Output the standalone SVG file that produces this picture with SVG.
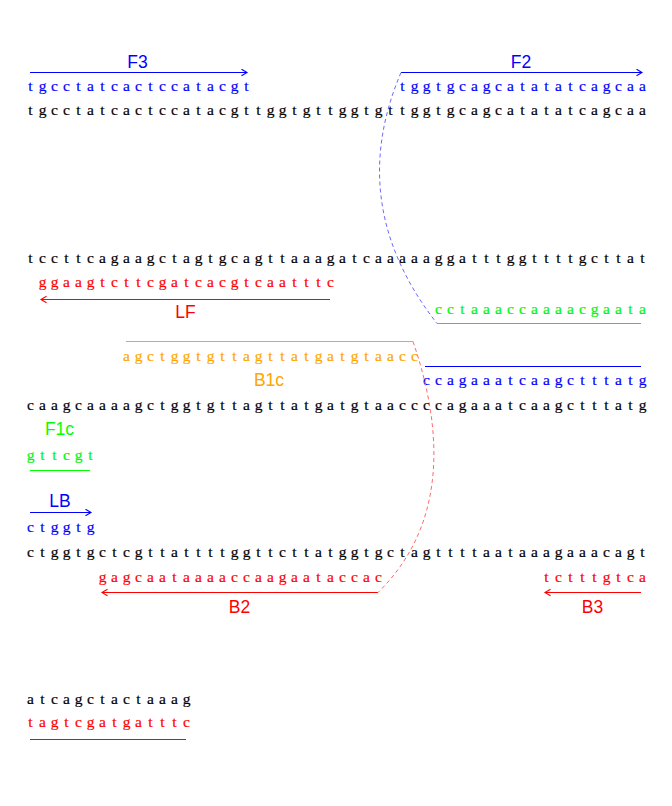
<svg xmlns="http://www.w3.org/2000/svg" width="672" height="806" viewBox="0 0 672 806">
<defs>
<style>
.seq{font-family:"Liberation Serif","Times New Roman",serif;font-size:15.5px;text-anchor:middle;stroke-width:0.2}
.lab{font-family:"Liberation Sans",Arial,sans-serif;font-size:17.5px;text-anchor:middle}
.k{fill:#000;stroke:#000}.b{fill:#0000FF}.r{fill:#FF0000}.g{fill:#00FF00}.o{fill:#FFA500}
.seq.b{stroke:#0000FF}.seq.r{stroke:#FF0000}.seq.g{stroke:#00E000}.seq.o{stroke:#FFA500}
.lb{stroke:#0000FF;stroke-width:1.2;fill:none}
.lr{stroke:#FF0000;stroke-width:1.2;fill:none}
.lg{stroke:#00FF00;stroke-width:1.2;fill:none}
.lo{stroke:#FFA500;stroke-width:1.2;fill:none}
.db{stroke:#6A6AFF;stroke-width:1;fill:none;stroke-dasharray:4,3}
.dr{stroke:#FF6A6A;stroke-width:1;fill:none;stroke-dasharray:4,3}
</style>
<marker id="hb" markerUnits="userSpaceOnUse" markerWidth="10" markerHeight="10" refX="6" refY="4" orient="auto"><path d="M0.5,0.7 L6,4 L0.5,7.3" fill="none" stroke="#0000FF" stroke-width="1.1"/></marker>
<marker id="hr" markerUnits="userSpaceOnUse" markerWidth="10" markerHeight="10" refX="6" refY="4" orient="auto"><path d="M0.5,0.7 L6,4 L0.5,7.3" fill="none" stroke="#FF0000" stroke-width="1.1"/></marker>
</defs>
<rect width="672" height="806" fill="#fff"/>

<g id="row1">
<text class="seq k" y="115" x="30.5 42.5 54.5 66.5 78.5 90.5 102.5 114.5 126.5 138.5 150.5 162.5 174.5 186.5 198.5 210.5 222.5 234.5 246.5 258.5 270.5 282.5 294.5 306.5 318.5 330.5 342.5 354.5 366.5 378.5 390.5 402.5 414.5 426.5 438.5 450.5 462.5 474.5 486.5 498.5 510.5 522.5 534.5 546.5 558.5 570.5 582.5 594.5 606.5 618.5 630.5 642.5">tgcctatcactccatacgttggtgttggtgttggtgcagcatatatcagcaa</text>
</g>
<g id="F3">
<text class="lab b" x="137.5" y="68">F3</text>
<text class="seq b" y="91" x="30.5 42.5 54.5 66.5 78.5 90.5 102.5 114.5 126.5 138.5 150.5 162.5 174.5 186.5 198.5 210.5 222.5 234.5 246.5">tgcctatcactccatacgt</text>
</g>
<g id="F2">
<text class="lab b" x="521" y="68">F2</text>
<text class="seq b" y="91" x="402.5 414.5 426.5 438.5 450.5 462.5 474.5 486.5 498.5 510.5 522.5 534.5 546.5 558.5 570.5 582.5 594.5 606.5 618.5 630.5 642.5">tggtgcagcatatatcagcaa</text>
</g>

<g id="row2">
<text class="seq k" y="263" x="30.5 42.5 54.5 66.5 78.5 90.5 102.5 114.5 126.5 138.5 150.5 162.5 174.5 186.5 198.5 210.5 222.5 234.5 246.5 258.5 270.5 282.5 294.5 306.5 318.5 330.5 342.5 354.5 366.5 378.5 390.5 402.5 414.5 426.5 438.5 450.5 462.5 474.5 486.5 498.5 510.5 522.5 534.5 546.5 558.5 570.5 582.5 594.5 606.5 618.5 630.5 642.5">tccttcagaagctagtgcagttaaagatcaaaaaggatttggttttgcttat</text>
</g>
<g id="LF">
<text class="seq r" y="287" x="42.5 54.5 66.5 78.5 90.5 102.5 114.5 126.5 138.5 150.5 162.5 174.5 186.5 198.5 210.5 222.5 234.5 246.5 258.5 270.5 282.5 294.5 306.5 318.5 330.5">ggaagtcttcgatcacgtcaatttc</text>
<text class="lab r" x="185.5" y="318">LF</text>
</g>
<g id="F1">
<text class="seq g" y="314" x="438.5 450.5 462.5 474.5 486.5 498.5 510.5 522.5 534.5 546.5 558.5 570.5 582.5 594.5 606.5 618.5 630.5 642.5">cctaaaccaaaacgaata</text>
</g>

<g id="B1c">
<text class="seq o" y="361" x="126.5 138.5 150.5 162.5 174.5 186.5 198.5 210.5 222.5 234.5 246.5 258.5 270.5 282.5 294.5 306.5 318.5 330.5 342.5 354.5 366.5 378.5 390.5 402.5 414.5">agctggtgttagttatgatgtaacc</text>
<text class="lab o" x="269" y="386">B1c</text>
</g>
<g id="B1">
<text class="seq b" y="385" x="426.5 438.5 450.5 462.5 474.5 486.5 498.5 510.5 522.5 534.5 546.5 558.5 570.5 582.5 594.5 606.5 618.5 630.5 642.5">ccagaaatcaagctttatg</text>
</g>
<g id="row3">
<text class="seq k" y="410" x="30.5 42.5 54.5 66.5 78.5 90.5 102.5 114.5 126.5 138.5 150.5 162.5 174.5 186.5 198.5 210.5 222.5 234.5 246.5 258.5 270.5 282.5 294.5 306.5 318.5 330.5 342.5 354.5 366.5 378.5 390.5 402.5 414.5 426.5 438.5 450.5 462.5 474.5 486.5 498.5 510.5 522.5 534.5 546.5 558.5 570.5 582.5 594.5 606.5 618.5 630.5 642.5">caagcaaaagctggtgttagttatgatgtaaccccagaaatcaagctttatg</text>
</g>
<g id="F1c">
<text class="lab g" x="59.5" y="435">F1c</text>
<text class="seq g" y="460" x="30.5 42.5 54.5 66.5 78.5 90.5">gttcgt</text>
</g>
<g id="LB">
<text class="lab b" x="60" y="507">LB</text>
<text class="seq b" y="532" x="30.5 42.5 54.5 66.5 78.5 90.5">ctggtg</text>
</g>

<g id="row4">
<text class="seq k" y="557" x="30.5 42.5 54.5 66.5 78.5 90.5 102.5 114.5 126.5 138.5 150.5 162.5 174.5 186.5 198.5 210.5 222.5 234.5 246.5 258.5 270.5 282.5 294.5 306.5 318.5 330.5 342.5 354.5 366.5 378.5 390.5 402.5 414.5 426.5 438.5 450.5 462.5 474.5 486.5 498.5 510.5 522.5 534.5 546.5 558.5 570.5 582.5 594.5 606.5 618.5 630.5 642.5">ctggtgctcgttattttggttcttatggtgctagttttaataaagaaacagt</text>
</g>
<g id="B2">
<text class="seq r" y="582" x="102.5 114.5 126.5 138.5 150.5 162.5 174.5 186.5 198.5 210.5 222.5 234.5 246.5 258.5 270.5 282.5 294.5 306.5 318.5 330.5 342.5 354.5 366.5 378.5">gagcaataaaaccaagaataccac</text>
<text class="lab r" x="239.5" y="613">B2</text>
</g>
<g id="B3">
<text class="seq r" y="582" x="546.5 558.5 570.5 582.5 594.5 606.5 618.5 630.5 642.5">tctttgtca</text>
<text class="lab r" x="592.5" y="613">B3</text>
</g>

<g id="row5">
<text class="seq k" y="704" x="30.5 42.5 54.5 66.5 78.5 90.5 102.5 114.5 126.5 138.5 150.5 162.5 174.5 186.5">atcagctactaaag</text>
<text class="seq r" y="727" x="30.5 42.5 54.5 66.5 78.5 90.5 102.5 114.5 126.5 138.5 150.5 162.5 174.5 186.5">tagtcgatgatttc</text>
</g>

<g id="connectors">
<line class="lb" x1="30" y1="72.5" x2="247" y2="72.5" marker-end="url(#hb)"/>
<line class="lb" x1="401" y1="72.5" x2="642" y2="72.5" marker-end="url(#hb)"/>
<line class="lr" x1="330" y1="299.5" x2="41" y2="299.5" marker-end="url(#hr)"/>
<line class="lg" x1="437" y1="323.5" x2="641" y2="323.5"/>
<line class="lo" x1="126" y1="341.5" x2="413" y2="341.5"/>
<line class="lb" x1="425" y1="366.5" x2="641" y2="366.5"/>
<line class="lg" x1="30" y1="470.5" x2="90" y2="470.5"/>
<line class="lb" x1="30" y1="512.5" x2="91" y2="512.5" marker-end="url(#hb)"/>
<line class="lr" x1="378" y1="592.5" x2="102" y2="592.5" marker-end="url(#hr)"/>
<line class="lr" x1="641" y1="592.5" x2="545" y2="592.5" marker-end="url(#hr)"/>
<line class="lr" x1="30" y1="739.5" x2="186" y2="739.5"/>
<path class="db" d="M401,72.5 C368,150 368,235 437,323.5"/>
<path class="dr" d="M413,341.5 C440,420 452,520 378,592.5"/>
</g>
</svg>
